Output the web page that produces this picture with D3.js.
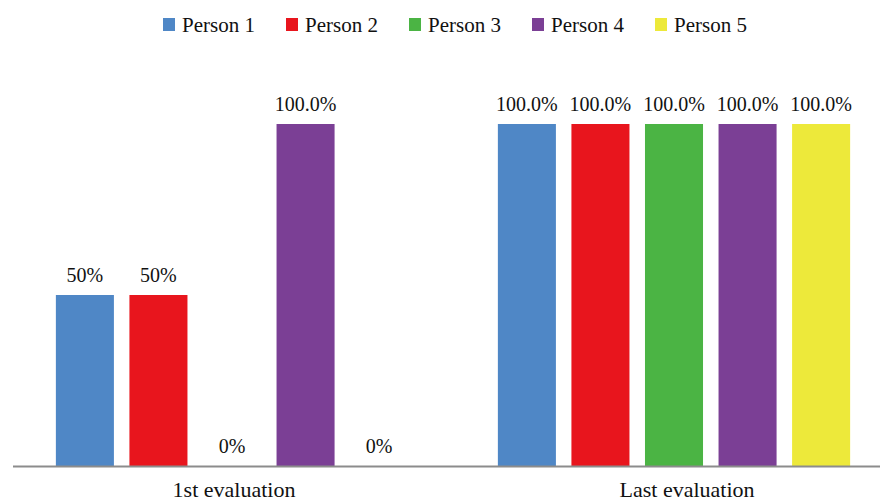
<!DOCTYPE html>
<html>
<head>
<meta charset="utf-8">
<script src="https://cdn.jsdelivr.net/npm/d3@7/dist/d3.min.js"></script>
<style>
  html, body { margin: 0; padding: 0; background: #fff; }
  svg { display: block; }
</style>
</head>
<body>
<svg id="chart" width="880" height="503"></svg>
<script>
// Evaluation results per person
const categories = ["1st evaluation", "Last evaluation"];
const persons = ["Person 1", "Person 2", "Person 3", "Person 4", "Person 5"];
const firstEval = [50, 50, 0, 100, 0];
const lastEval = [100, 100, 100, 100, 100];
const firstLabels = ["50%", "50%", "0%", "100.0%", "0%"];
const lastLabels = ["100.0%", "100.0%", "100.0%", "100.0%", "100.0%"];
const colors = ["#4f87c6", "#e8151d", "#4bb444", "#7b3f95", "#ede93a"];

const seriesByCategory = [firstEval, lastEval];
const labelsByCategory = [firstLabels, lastLabels];

const rows = categories.map((c, i) => ({
  category: c,
  values: persons.map((p, j) => ({
    person: p,
    value: seriesByCategory[i][j],
    label: labelsByCategory[i][j],
    color: colors[j]
  }))
}));

const svg = d3.select("#chart");
const baseY = 466;
const topY = 124;

const x0 = d3.scaleBand().domain(categories).range([11, 895]).paddingInner(0).paddingOuter(0);
const x1 = d3.scaleBand().domain(persons).range([0, x0.bandwidth()]).paddingInner(0.211).paddingOuter(0.61);
const y = d3.scaleLinear().domain([0, 100]).range([baseY, topY]);

const serif = "'Liberation Serif', 'Times New Roman', serif";

// bars
const groups = svg.selectAll("g.group").data(rows).join("g")
  .attr("class", "group")
  .attr("transform", d => `translate(${x0(d.category)},0)`);

groups.selectAll("rect").data(d => d.values).join("rect")
  .attr("x", d => x1(d.person))
  .attr("y", d => y(d.value))
  .attr("width", x1.bandwidth())
  .attr("height", d => baseY - y(d.value))
  .attr("fill", d => d.color);

// value labels
groups.selectAll("text.val").data(d => d.values).join("text")
  .attr("class", "val")
  .attr("x", d => x1(d.person) + x1.bandwidth() / 2)
  .attr("y", d => y(d.value) - 13)
  .attr("text-anchor", "middle")
  .attr("font-family", serif)
  .attr("font-size", 20)
  .attr("fill", "#111")
  .text(d => d.label);

// category axis
const xAxis = d3.axisBottom(x0).tickSize(0).tickPadding(15);
const ax = svg.append("g").attr("transform", `translate(0,${baseY})`).call(xAxis);
ax.select(".domain").remove();
ax.selectAll("text")
  .attr("font-family", serif)
  .attr("font-size", 22)
  .attr("fill", "#111")
  .attr("dx", (d, i) => (i === 0 ? 2 : 13));
svg.append("line")
  .attr("x1", 13).attr("x2", 880)
  .attr("y1", baseY + 0.5).attr("y2", baseY + 0.5)
  .attr("stroke", "#8c8c8c").attr("stroke-width", 2);

// legend
const legend = svg.append("g").attr("transform", "translate(163,18)");
const items = legend.selectAll("g").data(persons).join("g")
  .attr("transform", (d, i) => `translate(${i * 123},0)`);
items.append("rect")
  .attr("width", 12).attr("height", 13)
  .attr("fill", (d, i) => colors[i]);
items.append("text")
  .attr("x", 19).attr("y", 13.5)
  .attr("font-family", serif)
  .attr("font-size", 21)
  .attr("fill", "#111")
  .text(d => d);
</script>
</body>
</html>
